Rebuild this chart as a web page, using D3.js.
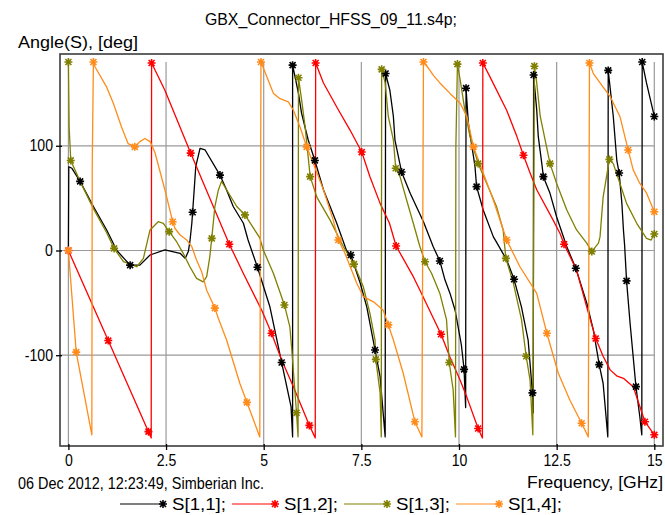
<!DOCTYPE html>
<html><head><meta charset="utf-8">
<script src="https://cdn.jsdelivr.net/npm/d3@7"></script>
<style>body{margin:0;background:#fff}svg{display:block}</style>
</head><body><svg id="c" width="665" height="515"></svg>
<script>
// ---------- data ----------
const chartTitle = "GBX_Connector_HFSS_09_11.s4p;";
const yAxisTitle = "Angle(S), [deg]";
const xAxisTitle = "Frequency, [GHz]";
const stampText = "06 Dec 2012, 12:23:49, Simberian Inc.";
const xTicks = [0, 2.5, 5, 7.5, 10, 12.5, 15];
const xTickLabels = ["0", "2.5", "5", "7.5", "10", "12.5", "15"];
const yTicks = [-100, 0, 100];
const yTickLabels = ["-100", "0", "100"];
const seriesNames = ["S[1,1];", "S[1,2];", "S[1,3];", "S[1,4];"];

// [frequency GHz, angle deg]
const s11 = [[0,0],[0.01,80],[0.09,78.5],[0.30,66],[0.64,42],[0.98,19.6],[1.24,0],[1.58,-14],[1.83,-14],[2.09,-4.3],[2.47,0.5],[2.86,-2.7],[2.99,-7.5],[3.07,-1],[3.11,8.4],[3.16,26],[3.18,36.5],[3.22,57.8],[3.26,80],[3.37,97.6],[3.50,96],[3.88,72],[4.05,57.8],[4.22,42],[4.48,26],[4.60,10],[4.84,-16],[5.16,-54],[5.46,-107],[5.70,-149],[5.74,-178],[5.74,177],[5.89,150],[5.97,131],[6.14,105.5],[6.31,86],[6.53,58],[6.87,26],[7.12,0],[7.23,-4.3],[7.47,-31],[7.64,-54],[7.85,-95],[7.98,-120.5],[8.11,-178],[8.12,169],[8.23,153],[8.32,128],[8.36,105.5],[8.53,75],[8.75,54.6],[9.09,27.5],[9.34,3.6],[9.51,-10],[9.64,-28],[9.77,-41],[9.90,-57],[10.06,-90],[10.13,-113.5],[10.17,-150],[10.18,155],[10.24,121.5],[10.32,102],[10.41,80],[10.45,61],[10.62,38.7],[10.88,13],[10.96,8],[11.22,-9],[11.41,-27.5],[11.60,-54],[11.77,-85.5],[11.88,-136],[11.90,-155],[11.91,167.6],[11.99,134],[12.03,108.7],[12.12,83],[12.16,70.5],[12.33,54.6],[12.50,32],[12.76,3.6],[12.99,-17],[13.27,-50],[13.44,-76],[13.59,-109],[13.69,-127],[13.81,-178],[13.82,172],[13.95,128],[14.04,86],[14.10,74],[14.17,45],[14.21,19.6],[14.24,5],[14.29,-29],[14.38,-69.5],[14.53,-130],[14.63,-159],[14.68,-176],[14.69,180],[14.80,160],[15.0,128]];

const s12 = [[0,0],[1.02,-86],[2.05,-173],[2.12,-179],[2.13,179],[2.47,153],[3.13,93],[3.71,42],[4.12,6],[4.48,-22],[4.95,-57],[5.20,-79],[5.46,-104.6],[5.76,-130],[6.17,-167],[6.32,-179],[6.33,179],[6.53,160],[6.87,137],[7.21,115],[7.51,94],[7.72,70.5],[7.98,45],[8.22,26],[8.39,4.3],[8.83,-25],[9.04,-41],[9.54,-80],[9.77,-102],[10.03,-124],[10.20,-140],[10.49,-170],[10.60,-179],[10.61,179],[10.79,166],[11.22,134],[11.48,109],[11.65,91],[11.82,74],[11.99,58],[12.41,29],[12.59,16],[12.69,6],[13.01,-18.6],[13.27,-54],[13.50,-84],[13.69,-101],[13.87,-114],[14.05,-120],[14.21,-122],[14.46,-130],[14.63,-149],[14.76,-163.5],[15.0,-176]];

const s13 = [[0,180],[0.02,117],[0.06,86],[0.30,66],[0.64,40],[0.98,17],[1.17,2],[1.41,-10.7],[1.75,-15.5],[1.92,-7.5],[2.09,19.6],[2.30,27.5],[2.43,26],[2.58,18],[2.77,8.4],[2.94,-2.7],[3.11,-15.5],[3.28,-26.6],[3.45,-30],[3.54,-25],[3.62,-6],[3.67,11.6],[3.75,42],[3.84,57.8],[3.92,66],[4.05,58],[4.31,42],[4.52,34],[4.90,12],[4.99,0.5],[5.25,-22],[5.53,-52],[5.67,-73],[5.72,-95],[5.84,-155],[5.88,-178],[5.89,165],[5.97,144],[6.06,118],[6.19,70.5],[6.36,51],[6.70,29],[7.04,3.6],[7.31,-13],[7.55,-34.6],[7.72,-60],[7.85,-85.5],[7.87,-104],[7.98,-136],[8.01,-178],[8.02,173],[8.11,160],[8.19,128],[8.32,105.5],[8.38,78.5],[8.49,70.5],[8.66,48],[8.83,26],[9.00,3.6],[9.13,-10.7],[9.30,-22],[9.51,-41],[9.68,-66],[9.75,-107],[9.85,-133],[9.91,-178],[9.92,100],[9.96,178],[10.03,163],[10.15,134],[10.28,109],[10.49,83],[10.71,64],[10.96,42],[11.13,19.6],[11.20,-7.5],[11.39,-31],[11.60,-66],[11.72,-101],[11.82,-124],[11.89,-176],[11.93,176],[11.99,160],[12.08,128],[12.33,83],[12.50,64],[12.76,38.7],[13.01,19.6],[13.27,7],[13.40,-1],[13.57,7],[13.61,13],[13.69,51],[13.85,87],[13.95,83],[14.12,64],[14.29,45],[14.55,26],[14.80,11.6],[14.92,10],[15.0,15.8]];

const s14 = [[0,0],[0.2,-97],[0.60,-176],[0.61,80],[0.64,180],[0.68,175.5],[0.98,156],[1.15,140.6],[1.36,118],[1.53,102],[1.70,99],[1.83,104],[1.96,107],[2.09,104],[2.22,93],[2.47,58],[2.67,27.5],[2.73,21],[2.86,14.8],[3.03,10],[3.16,3.6],[3.28,-9],[3.41,-20],[3.54,-38],[3.75,-55],[3.84,-65],[4.05,-85.5],[4.39,-127],[4.57,-145],[4.90,-178],[4.93,180],[5.08,166],[5.25,150],[5.42,145],[5.63,142],[5.76,134],[5.93,118],[6.10,99],[6.27,83],[6.53,58],[6.78,29],[6.91,10],[7.08,-2.7],[7.38,-31],[7.55,-44],[7.81,-49],[8.06,-57],[8.19,-71],[8.32,-85.5],[8.57,-117],[8.87,-163.5],[9.05,-178],[9.09,180],[9.22,174],[9.35,167],[9.51,160],[9.77,150],[10.03,140.6],[10.20,128],[10.37,99],[10.62,74],[10.88,48],[11.22,10],[11.56,-15.5],[11.99,-41],[12.25,-79],[12.54,-117],[12.84,-143],[13.14,-165],[13.31,-178],[13.34,179],[13.44,169],[13.69,156],[13.87,147],[14.12,128],[14.33,96],[14.46,77],[14.63,64],[14.80,55],[15.0,37]];

const s11Markers = [[0.30,66],[1.58,-14],[3.18,36.5],[3.88,72],[4.84,-16],[5.46,-107],[5.74,177],[6.31,86],[7.23,-4.3],[7.85,-95],[8.12,169],[8.53,75],[9.51,-10],[10.13,-113.5],[10.18,155],[10.45,61],[11.41,-27.5],[11.88,-136],[11.91,167.6],[12.16,70.5],[12.99,-17],[13.59,-109],[13.82,172],[14.10,74],[14.29,-29],[14.53,-130],[14.69,180],[15,128]];
const s12Markers = [[0,0],[1.02,-86],[2.05,-173],[2.13,179],[3.13,93],[4.12,6],[5.20,-79],[6.17,-167],[6.33,179],[7.51,94],[8.39,4.3],[9.54,-80],[10.49,-170],[10.61,179],[11.65,91],[12.69,6],[13.50,-84],[14.76,-163.5],[15,-176]];
const s13Markers = [[0,180],[0.06,86],[1.17,2],[2.58,18],[3.67,11.6],[4.52,34],[5.53,-52],[5.84,-155],[5.89,165],[6.19,70.5],[7.31,-13],[7.87,-104],[8.02,173],[8.38,78.5],[9.13,-10.7],[9.75,-107],[9.96,178],[10.49,83],[11.20,-7.5],[11.72,-101],[11.93,176],[12.33,83],[13.40,-1],[13.85,87],[15,15.8]];
const s14Markers = [[0,0],[0.2,-97],[0.64,180],[1.70,99],[2.67,27.5],[3.75,-55],[4.57,-145],[4.93,180],[6.10,99],[6.91,10],[8.19,-71],[8.87,-163.5],[9.09,180],[10.37,99],[11.22,10],[12.25,-79],[13.14,-165],[13.34,179],[14.33,96],[15,37]];

// ---------- drawing ----------
const colors = ["#000000", "#ff0000", "#808000", "#ff8c1a"];
const lines = [s11, s12, s13, s14];
const markers = [s11Markers, s12Markers, s13Markers, s14Markers];
const FONT = "'Liberation Sans', Arial, sans-serif";

const svg = d3.select("#c");
const frame = {l: 60, t: 54, r: 663, b: 446};
const x = d3.scaleLinear().domain([0, 15]).range([68.4, 654.3]);
const y = d3.scaleLinear().domain([-180, 180]).range([439, 62]);

svg.append("rect").attr("width", 665).attr("height", 515).attr("fill", "#fff");

// grid
const grid = svg.append("g").attr("stroke", "#9a9a9a").attr("stroke-width", 1.2);
grid.selectAll(".gx").data(xTicks).join("line")
  .attr("x1", d => x(d)).attr("x2", d => x(d))
  .attr("y1", y(180)).attr("y2", frame.b);
grid.selectAll(".gy").data(yTicks).join("line")
  .attr("x1", frame.l).attr("x2", x(15))
  .attr("y1", d => y(d)).attr("y2", d => y(d));

// frame
svg.append("rect").attr("x", frame.l).attr("y", frame.t)
  .attr("width", frame.r - frame.l).attr("height", frame.b - frame.t)
  .attr("fill", "none").attr("stroke", "#3c3c3c").attr("stroke-width", 1.6);

// axes
const xAxis = d3.axisBottom(x).tickValues(xTicks)
  .tickFormat((d, i) => xTickLabels[i]).tickSizeInner(4).tickSizeOuter(0).tickPadding(5);
const gx = svg.append("g").attr("transform", `translate(0,${frame.b})`).call(xAxis);
gx.select(".domain").remove();
gx.selectAll(".tick line").attr("y1", -2).attr("stroke", "#000").attr("stroke-width", 1.3);
gx.selectAll(".tick text").attr("font-family", FONT).attr("font-size", 16).attr("fill", "#000")
  .attr("transform", "scale(0.88,1)");

const yAxis = d3.axisLeft(y).tickValues(yTicks)
  .tickFormat((d, i) => yTickLabels[i]).tickSizeInner(4).tickSizeOuter(0).tickPadding(4);
const gy = svg.append("g").attr("transform", `translate(${frame.l},0)`).call(yAxis);
gy.select(".domain").remove();
gy.selectAll(".tick line").attr("x1", 2).attr("stroke", "#000").attr("stroke-width", 1.3);
gy.selectAll(".tick text").attr("font-family", FONT).attr("font-size", 16).attr("fill", "#000")
  .attr("transform", "scale(0.88,1)");

// star marker path
const R = 4, D = 3;
const starPath = `M${-R},0L${R},0M0,${-R}L0,${R}M${-D},${-D}L${D},${D}M${-D},${D}L${D},${-D}`;

const clip = svg.append("defs").append("clipPath").attr("id", "pc")
  .append("rect").attr("x", frame.l).attr("y", frame.t).attr("width", frame.r - frame.l).attr("height", frame.b - frame.t);

const line = d3.line().x(d => x(d[0])).y(d => y(d[1]));
const plot = svg.append("g");
lines.forEach((data, i) => {
  plot.append("path").datum(data).attr("d", line)
    .attr("fill", "none").attr("stroke", colors[i]).attr("stroke-width", 1.3)
    .attr("stroke-linejoin", "round");
});
markers.forEach((data, i) => {
  plot.append("g").selectAll("path").data(data).join("path")
    .attr("transform", d => `translate(${x(d[0])},${y(d[1])})`)
    .attr("d", starPath).attr("stroke", colors[i]).attr("stroke-width", 1.6).attr("fill", "none");
});

// texts
function txt(str, px, py, anchor, len, size) {
  return svg.append("text").attr("x", px).attr("y", py).attr("text-anchor", anchor)
    .attr("font-family", FONT).attr("font-size", size || 17).attr("fill", "#000")
    .attr("textLength", len).attr("lengthAdjust", "spacingAndGlyphs").text(str);
}
txt(chartTitle, 331, 25, "middle", 252);
txt(yAxisTitle, 18, 48, "start", 120);
txt(stampText, 18, 489, "start", 246);
txt(xAxisTitle, 663, 488, "end", 136);

// legend
const legendY = 504;
seriesNames.forEach((name, i) => {
  const x0 = 120 + i * 112;
  svg.append("line").attr("x1", x0).attr("x2", x0 + 41).attr("y1", legendY).attr("y2", legendY)
    .attr("stroke", colors[i]).attr("stroke-width", 1.2);
  svg.append("path").attr("transform", `translate(${x0 + 43},${legendY})`)
    .attr("d", starPath).attr("stroke", colors[i]).attr("stroke-width", 1.6).attr("fill", "none");
  txt(name, x0 + 52, legendY + 6, "start", 54);
});
</script></body></html>
